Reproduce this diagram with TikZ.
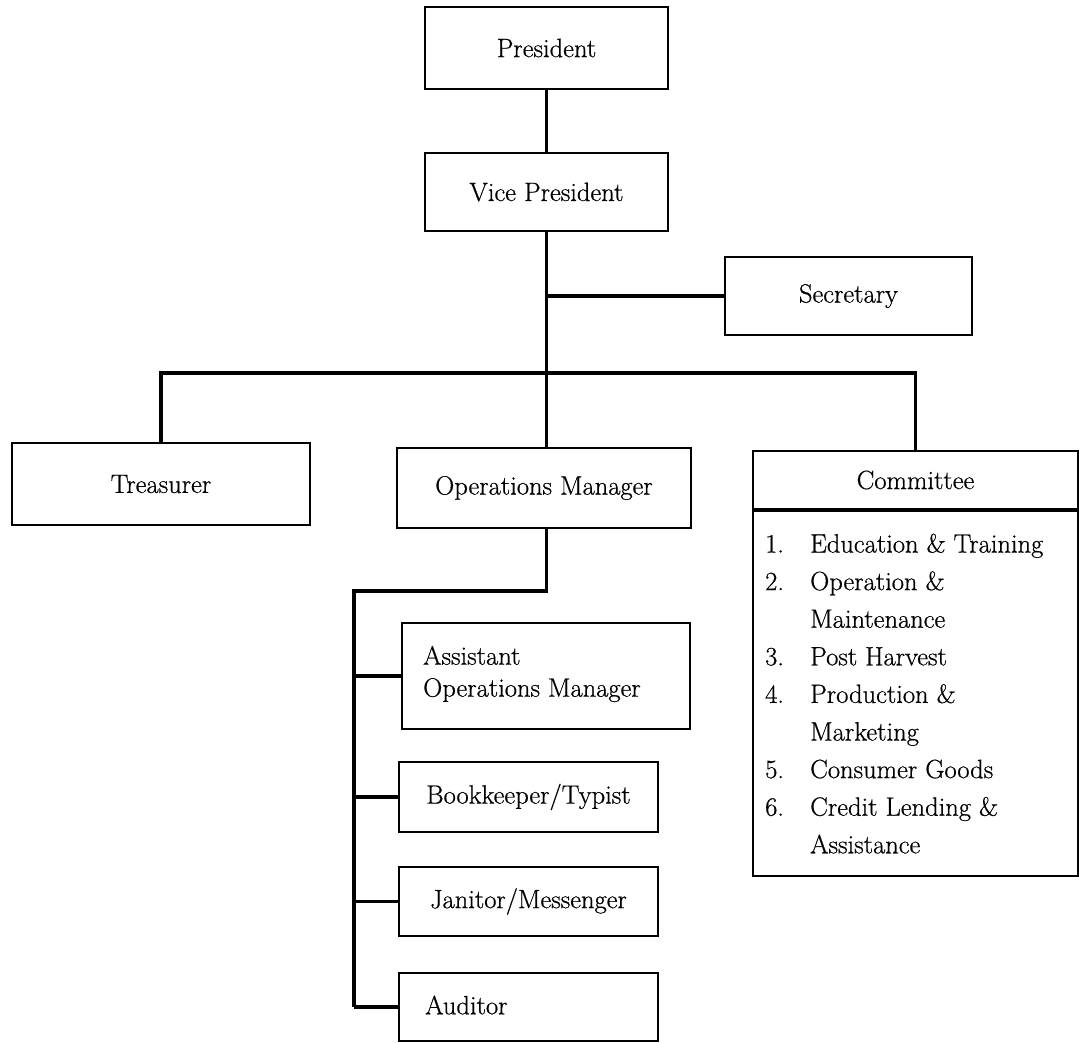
\documentclass[tikz,border=0pt]{standalone}
\usepackage{fontspec}
\setmainfont{Latin Modern Roman}[FakeBold=0.6]
\usepackage{array}
\begin{document}
\begin{tikzpicture}[x=1pt,y=-1pt,
  box/.style={draw, line width=1.8pt, inner sep=0pt, font=\fontsize{26.5}{32}\selectfont},
  txt/.style={inner sep=0pt, font=\fontsize{26.5}{32}\selectfont},
  conn/.style={line width=3.2pt},
]
\fill[white] (0,0) rectangle (1079,1042);
\useasboundingbox (0,0) rectangle (1079,1042);

% boxes
\node[box, minimum width=243pt, minimum height=82pt] (pres) at (546.5,48) {President};
\node[box, minimum width=243pt, minimum height=78pt] (vp) at (546.5,192) {Vice President};
\node[box, minimum width=247pt, minimum height=78pt] (sec) at (848.5,296) {Secretary};
\node[box, minimum width=298pt, minimum height=82pt] (treas) at (161,484) {Treasurer};
\node[box, minimum width=294pt, minimum height=80pt] (om) at (544,488) {Operations Manager};
\node[box, minimum width=325pt, minimum height=58pt] (comm) at (915.5,480) {Committee};
\node[box, minimum width=325pt, minimum height=365pt, anchor=north] (commlist) at (comm.south) {};
\node[txt, anchor=north west, align=left] (clist) at (765,526) {%
  \fontsize{26.5}{37.6}\selectfont
  \begin{tabular}{@{}p{45pt}@{}l@{}}
  1. & Education \& Training\\
  2. & Operation \&\\
     & Maintenance\\
  3. & Post Harvest\\
  4. & Production \&\\
     & Marketing\\
  5. & Consumer Goods\\
  6. & Credit Lending \&\\
     & Assistance
  \end{tabular}};

\node[box, minimum width=288pt, minimum height=106pt] (asst) at (546,676) {};
\node[txt, anchor=west, align=left] (assttext) at (423,674) {Assistant\\Operations Manager};
\node[box, minimum width=259pt, minimum height=70pt] (book) at (528.5,797) {Bookkeeper/Typist};
\node[box, minimum width=259pt, minimum height=69pt] (jan) at (528.5,901.5) {Janitor/Messenger};
\node[box, minimum width=259pt, minimum height=68pt] (aud) at (528.5,1007) {};
\node[txt, anchor=west] (audtext) at (425,1005) {Auditor};

% junction coordinates
\coordinate (hl) at (546,373);
\coordinate (omj) at (354,591);

% connectors
\draw[conn] (pres.south) -- (vp.north);
\draw[conn] (vp.south) -- (vp.south |- om.north);
\draw[conn] (vp.south |- sec.west) -- (sec.west);
\draw[conn] (treas.north) -- (treas.north |- hl) -- (comm.north |- hl) -- (comm.north);
\draw[conn] (vp.south |- om.south) -- (vp.south |- omj) -- (omj) -- (omj |- aud.west);
\draw[conn] (omj |- asst.west) -- (asst.west);
\draw[conn] (omj |- book.west) -- (book.west);
\draw[conn] (omj |- jan.west) -- (jan.west);
\draw[conn] (omj |- aud.west) -- (aud.west);
\end{tikzpicture}
\end{document}
